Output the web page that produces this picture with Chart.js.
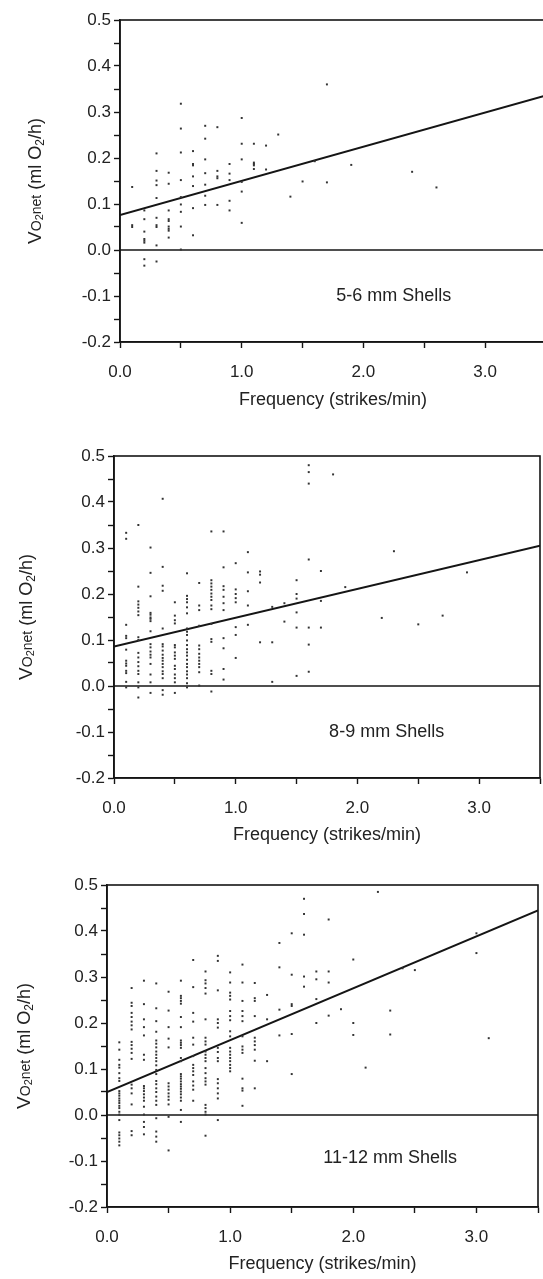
<!DOCTYPE html>
<html lang="en">
<head>
<meta charset="UTF-8">
<title>VO2net vs strike frequency</title>
<script src="https://cdn.jsdelivr.net/npm/chart.js"></script>
<style>
  html, body { margin: 0; padding: 0; background: #fff; width: 543px; height: 1279px; overflow: hidden; }
  .panel { position: absolute; left: 0; }
</style>
</head>
<body>
<div class="panel" style="top:0px"><canvas id="c1" width="560" height="430"></canvas></div>
<div class="panel" style="top:430px"><canvas id="c2" width="560" height="430"></canvas></div>
<div class="panel" style="top:860px"><canvas id="c3" width="560" height="419"></canvas></div>

<script>
// labelled ticks
const xMajor = [0, 1, 2, 3];
const yMajor = [-0.2, -0.1, 0, 0.1, 0.2, 0.3, 0.4, 0.5];

const panelLabels = ['5-6 mm Shells', '8-9 mm Shells', '11-12 mm Shells'];

// regression lines: value at 0 and at 3.5 strikes/min
const fitStart = [0.076, 0.086, 0.050];
const fitEnd = [0.336, 0.305, 0.445];

// points, grouped by frequency column: [x, [y, y, ...]]
const shells56 = [
  [0.1, [0.137, 0.054, 0.050]],
  [0.2, [0.086, 0.067, 0.040, 0.024, 0.020, 0.016, -0.020, -0.034]],
  [0.3, [0.210, 0.172, 0.151, 0.141, 0.113, 0.070, 0.054, 0.050, 0.010, -0.025]],
  [0.4, [0.168, 0.144, 0.086, 0.067, 0.063, 0.051, 0.046, 0.042, 0.027]],
  [0.5, [0.318, 0.264, 0.212, 0.152, 0.115, 0.099, 0.083, 0.051, 0.001]],
  [0.6, [0.215, 0.187, 0.184, 0.160, 0.139, 0.091, 0.032]],
  [0.7, [0.270, 0.242, 0.197, 0.167, 0.142, 0.118, 0.098]],
  [0.8, [0.267, 0.172, 0.160, 0.156, 0.098]],
  [0.9, [0.187, 0.166, 0.152, 0.107, 0.086]],
  [1.0, [0.287, 0.231, 0.197, 0.148, 0.127, 0.059]],
  [1.1, [0.231, 0.190, 0.187, 0.184, 0.176]],
  [1.2, [0.227, 0.175]],
  [1.3, [0.251]],
  [1.4, [0.116]],
  [1.5, [0.149]],
  [1.6, [0.193]],
  [1.7, [0.360, 0.147]],
  [1.9, [0.185]],
  [2.4, [0.170]],
  [2.6, [0.136]]
];

const shells89 = [
  [0.1, [0.333, 0.320, 0.133, 0.109, 0.104, 0.079, 0.055, 0.049, 0.044, 0.033, 0.028, 0.009, -0.003]],
  [0.2, [0.350, 0.216, 0.184, 0.177, 0.170, 0.162, 0.154, 0.106, 0.100, 0.072, 0.062, 0.052, 0.043, 0.033, 0.026, 0.008, -0.003, -0.025]],
  [0.3, [0.301, 0.246, 0.195, 0.159, 0.155, 0.149, 0.146, 0.141, 0.119, 0.091, 0.084, 0.075, 0.068, 0.062, 0.048, 0.025, 0.008, -0.015]],
  [0.4, [0.407, 0.259, 0.218, 0.207, 0.125, 0.091, 0.086, 0.077, 0.068, 0.061, 0.055, 0.048, 0.041, 0.032, 0.026, 0.017, -0.009, -0.019]],
  [0.5, [0.182, 0.153, 0.143, 0.136, 0.089, 0.084, 0.073, 0.066, 0.059, 0.044, 0.037, 0.025, 0.017, 0.008, -0.015]],
  [0.6, [0.245, 0.196, 0.189, 0.182, 0.171, 0.158, 0.125, 0.118, 0.111, 0.099, 0.089, 0.080, 0.073, 0.066, 0.057, 0.048, 0.041, 0.032, 0.025, 0.017, 0.006, -0.003]],
  [0.7, [0.224, 0.175, 0.165, 0.131, 0.088, 0.080, 0.070, 0.062, 0.055, 0.048, 0.041, 0.030, 0.001]],
  [0.8, [0.336, 0.230, 0.223, 0.216, 0.209, 0.201, 0.194, 0.187, 0.175, 0.167, 0.135, 0.102, 0.096, 0.033, 0.026, -0.012]],
  [0.9, [0.336, 0.258, 0.217, 0.209, 0.194, 0.180, 0.165, 0.104, 0.082, 0.037, 0.014]],
  [1.0, [0.267, 0.210, 0.200, 0.191, 0.182, 0.128, 0.111, 0.061]],
  [1.1, [0.291, 0.247, 0.206, 0.175, 0.133]],
  [1.2, [0.249, 0.242, 0.225, 0.095]],
  [1.3, [0.172, 0.095, 0.009]],
  [1.4, [0.180, 0.140]],
  [1.5, [0.230, 0.200, 0.190, 0.160, 0.127, 0.022]],
  [1.6, [0.480, 0.465, 0.440, 0.275, 0.127, 0.090, 0.031]],
  [1.7, [0.250, 0.185, 0.127]],
  [1.8, [0.460]],
  [1.9, [0.215]],
  [2.2, [0.148]],
  [2.3, [0.293]],
  [2.5, [0.134]],
  [2.7, [0.153]],
  [2.9, [0.247]]
];

const shells1112 = [
  [0.1, [0.158, 0.142, 0.120, 0.109, 0.103, 0.091, 0.080, 0.074, 0.052, 0.047, 0.042, 0.036, 0.031, 0.026, 0.020, 0.015, 0.007, 0.001, -0.011, -0.038, -0.044, -0.051, -0.058, -0.066]],
  [0.2, [0.276, 0.244, 0.237, 0.222, 0.213, 0.203, 0.195, 0.186, 0.159, 0.152, 0.144, 0.135, 0.122, 0.066, 0.058, 0.047, 0.023, -0.035, -0.044]],
  [0.3, [0.292, 0.241, 0.208, 0.191, 0.173, 0.131, 0.120, 0.063, 0.058, 0.052, 0.045, 0.038, 0.031, 0.018, 0.001, -0.015, -0.026, -0.042]],
  [0.4, [0.286, 0.232, 0.204, 0.181, 0.162, 0.155, 0.147, 0.138, 0.131, 0.124, 0.117, 0.108, 0.098, 0.089, 0.074, 0.067, 0.058, 0.050, 0.040, 0.031, 0.022, -0.007, -0.036, -0.047, -0.058]],
  [0.5, [0.268, 0.227, 0.191, 0.166, 0.147, 0.069, 0.062, 0.055, 0.047, 0.040, 0.033, 0.023, -0.004, -0.077]],
  [0.6, [0.292, 0.259, 0.254, 0.248, 0.242, 0.213, 0.191, 0.162, 0.157, 0.152, 0.146, 0.124, 0.117, 0.089, 0.084, 0.079, 0.073, 0.067, 0.062, 0.057, 0.051, 0.045, 0.038, 0.031, 0.011, -0.015]],
  [0.7, [0.337, 0.278, 0.222, 0.203, 0.168, 0.153, 0.128, 0.109, 0.102, 0.095, 0.087, 0.073, 0.064, 0.055, 0.031]],
  [0.8, [0.312, 0.293, 0.286, 0.276, 0.264, 0.208, 0.168, 0.160, 0.153, 0.138, 0.131, 0.124, 0.117, 0.102, 0.091, 0.080, 0.073, 0.066, 0.022, 0.015, 0.007, 0.001, -0.045]],
  [0.9, [0.346, 0.335, 0.271, 0.208, 0.200, 0.190, 0.146, 0.137, 0.124, 0.117, 0.078, 0.069, 0.058, 0.047, 0.036, -0.011]],
  [1.0, [0.310, 0.288, 0.266, 0.259, 0.251, 0.226, 0.215, 0.206, 0.182, 0.171, 0.146, 0.138, 0.131, 0.124, 0.117, 0.109, 0.102, 0.095]],
  [1.1, [0.327, 0.288, 0.248, 0.226, 0.215, 0.204, 0.171, 0.149, 0.142, 0.135, 0.079, 0.058, 0.053, 0.020]],
  [1.2, [0.287, 0.254, 0.248, 0.215, 0.168, 0.160, 0.152, 0.142, 0.118, 0.058]],
  [1.3, [0.261, 0.208, 0.117]],
  [1.4, [0.374, 0.321, 0.229, 0.173]],
  [1.5, [0.395, 0.305, 0.241, 0.237, 0.176, 0.089]],
  [1.6, [0.470, 0.437, 0.392, 0.301, 0.279]],
  [1.7, [0.312, 0.295, 0.252, 0.200]],
  [1.8, [0.425, 0.312, 0.288, 0.216]],
  [1.9, [0.230]],
  [2.0, [0.338, 0.200, 0.174]],
  [2.1, [0.103]],
  [2.2, [0.485]],
  [2.3, [0.227, 0.175]],
  [2.4, [0.319]],
  [2.5, [0.315]],
  [3.0, [0.395, 0.352]],
  [3.1, [0.167]]
];

Chart.defaults.font.family = "'Liberation Sans', Arial, Helvetica, sans-serif";
Chart.defaults.color = '#222';

const INK = '#151515';

// box round the plot plus the zero line
const framePlugin = {
  id: 'frame',
  beforeDatasetsDraw(chart) {
    const { ctx, chartArea: a, scales } = chart;
    const y0 = scales.y.getPixelForValue(0);
    ctx.save();
    ctx.strokeStyle = INK;
    ctx.lineWidth = 1.6;
    ctx.strokeRect(a.left, a.top, a.right - a.left, a.bottom - a.top);
    ctx.beginPath();
    ctx.moveTo(a.left, y0);
    ctx.lineTo(a.right, y0);
    ctx.stroke();
    ctx.restore();
  }
};

// y title with the small "O2net" and subscript 2, plus the panel label
const textPlugin = {
  id: 'texts',
  afterDraw(chart, args, opts) {
    const { ctx, chartArea: a, scales } = chart;
    const fam = Chart.defaults.font.family;
    const parts = [
      ['V', 19, 0], ['O', 14, 0], ['2', 11, 2], ['net', 14, 0],
      [' (ml O', 18, 0], ['2', 12, 3], ['/h)', 18, 0]
    ];
    ctx.save();
    ctx.fillStyle = '#222';
    let total = 0;
    parts.forEach(p => { ctx.font = p[1] + 'px ' + fam; total += ctx.measureText(p[0]).width; });
    ctx.translate(a.left - opts.titleOffset, (a.top + a.bottom) / 2);
    ctx.rotate(-Math.PI / 2);
    ctx.textBaseline = 'middle';
    let cx = -total / 2;
    parts.forEach(p => {
      ctx.font = p[1] + 'px ' + fam;
      ctx.fillText(p[0], cx, p[2] + (19 - p[1]) * 0.3);
      cx += ctx.measureText(p[0]).width;
    });
    ctx.restore();

    ctx.save();
    ctx.fillStyle = '#222';
    ctx.font = '18px ' + fam;
    ctx.textAlign = 'center';
    ctx.textBaseline = 'middle';
    ctx.fillText(opts.label, scales.x.getPixelForValue(opts.at[0]), scales.y.getPixelForValue(opts.at[1]));
    ctx.restore();
  }
};

function isMajor(list, v) {
  return list.some(t => Math.abs(t - v) < 1e-6);
}

function makePanel(id, cols, i, geo) {
  const canvas = document.getElementById(id);
  const H = canvas.height;
  const W = canvas.width;
  // x title centre sits titleGap px below the plot bottom
  const padBottom = H - geo.bottom - geo.titleGap - 11;
  const points = cols.flatMap(([x, ys]) => ys.map(y => ({ x: x, y: y })));

  return new Chart(canvas.getContext('2d'), {
    type: 'scatter',
    data: {
      datasets: [
        {
          data: points,
          pointStyle: 'rect',
          pointRadius: 1.4,
          pointBackgroundColor: '#333',
          pointBorderWidth: 0
        },
        {
          type: 'line',
          data: [{ x: 0, y: fitStart[i] }, { x: 3.5, y: fitEnd[i] }],
          borderColor: INK,
          borderWidth: 2,
          pointRadius: 0,
          fill: false
        }
      ]
    },
    options: {
      responsive: false,
      animation: false,
      devicePixelRatio: 1,
      layout: { padding: { left: 0, top: geo.top, right: W - geo.right, bottom: padBottom } },
      plugins: {
        legend: { display: false },
        tooltip: { enabled: false },
        texts: { label: panelLabels[i], at: geo.labelAt, titleOffset: geo.titleOffset }
      },
      scales: {
        x: {
          type: 'linear',
          min: 0,
          max: 3.5,
          afterFit: s => { s.height = H - padBottom - geo.bottom; },
          border: { display: true, color: INK, width: 1.6 },
          grid: { drawOnChartArea: false, drawTicks: true, tickLength: 6, tickColor: INK, tickWidth: 1.4 },
          ticks: {
            stepSize: 0.5,
            autoSkip: false,
            maxRotation: 0,
            padding: 14,
            font: { size: 17 },
            callback: v => isMajor(xMajor, v) ? v.toFixed(1) : ''
          },
          title: {
            display: true,
            text: 'Frequency (strikes/min)',
            font: { size: 18 },
            padding: 0
          }
        },
        y: {
          type: 'linear',
          min: -0.2,
          max: 0.5,
          afterFit: s => { s.width = geo.left; },
          border: { display: true, color: INK, width: 1.6 },
          grid: { drawOnChartArea: false, drawTicks: true, tickLength: 6, tickColor: INK, tickWidth: 1.4 },
          ticks: {
            stepSize: 0.05,
            autoSkip: false,
            padding: 3,
            font: { size: 17 },
            callback: v => {
              if (!isMajor(yMajor, v)) return '';
              const s = v.toFixed(1);
              return s === '-0.0' ? '0.0' : s;
            }
          }
        }
      }
    },
    plugins: [framePlugin, textPlugin]
  });
}

makePanel('c1', shells56, 0, { left: 120, top: 20, right: 546, bottom: 342, titleGap: 58, titleOffset: 84, labelAt: [2.25, -0.1] });
makePanel('c2', shells89, 1, { left: 114, top: 26, right: 540, bottom: 348, titleGap: 57, titleOffset: 87, labelAt: [2.24, -0.1] });
makePanel('c3', shells1112, 2, { left: 107, top: 25, right: 538, bottom: 347, titleGap: 57, titleOffset: 82, labelAt: [2.3, -0.093] });
</script>
</body>
</html>
